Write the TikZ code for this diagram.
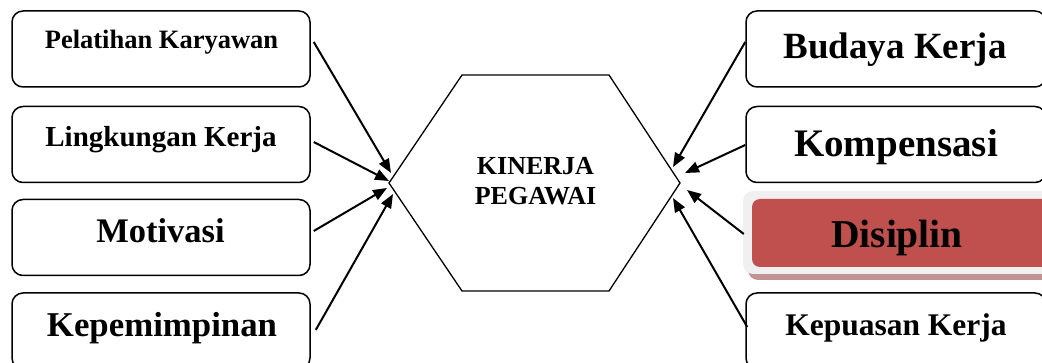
\documentclass[tikz,border=0pt]{standalone}
\usepackage{fontspec}
\setmainfont{Liberation Serif}
\usetikzlibrary{arrows.meta}
\definecolor{dred}{HTML}{C0504D}
\definecolor{glow}{HTML}{F0F0F0}
\definecolor{shad}{HTML}{C29393}
\tikzset{
  box/.style={draw=black, line width=1.5pt, rounded corners=11pt, minimum height=76pt, inner sep=0pt},
  lbl/.style={anchor=base, inner sep=0pt, font=\bfseries},
  arr/.style={line width=2pt, -{Triangle[length=14pt,width=11pt]}},
}
\newcommand{\fs}[1]{\fontsize{#1}{#1}\selectfont}
\begin{document}
\begin{tikzpicture}[x=1pt,y=-1pt]
\useasboundingbox (0,0) rectangle (1042,363);
% left boxes
\node[box, minimum width=298pt] (b1) at (161,49) {};
\node[box, minimum width=298pt] (b2) at (161,144.5) {};
\node[box, minimum width=298pt] (b3) at (161,237.5) {};
\node[box, minimum width=298pt] (b4) at (161,331) {};
\node[lbl, font=\bfseries\fs{26.5}] (l1) at (161.5,49) {Pelatihan Karyawan};
\node[lbl, font=\bfseries\fs{29}] (l2) at (161,147) {Lingkungan Kerja};
\node[lbl, font=\bfseries\fs{34.5}] (l3) at (160.5,243) {Motivasi};
\node[lbl, font=\bfseries\fs{34.8}] (l4) at (162,337) {Kepemimpinan};
% right boxes
\node[box, minimum width=300pt] (r1) at (896,49) {};
\node[box, minimum width=300pt] (r2) at (896,144.5) {};
\node[box, minimum width=300pt] (r4) at (896,331) {};
% Disiplin box
\fill[shad, rounded corners=10pt] (748,200) rectangle (1052,280);
\fill[glow, rounded corners=10pt] (743,191) rectangle (1052,274);
\node[fill=dred, rounded corners=8pt, minimum width=300pt, minimum height=68pt, inner sep=0pt] (r3) at (902,233) {};
\node[lbl, font=\bfseries\fs{37}] (m1) at (895,59) {Budaya Kerja};
\node[lbl, font=\bfseries\fs{39}] (m2) at (896,157) {Kompensasi};
\node[lbl, font=\bfseries\fs{39.5}] (m3) at (897,248) {Disiplin};
\node[lbl, font=\bfseries\fs{31.5}] (m4) at (896,336) {Kepuasan Kerja};
% hexagon
\coordinate (hw) at (389,183);
\coordinate (hnw) at (462,75);
\coordinate (hne) at (609,75);
\coordinate (he) at (680,183);
\coordinate (hse) at (609,291);
\coordinate (hsw) at (462,291);
\draw[line width=1.3pt, line join=miter] (hw) -- (hnw) -- (hne) -- (he) -- (hse) -- (hsw) -- cycle;
\node[align=center, inner sep=0pt, anchor=base, font=\bfseries\fontsize{26}{30}\selectfont] (kp) at (535.5,205) {KINERJA\\PEGAWAI};
% arrow tips
\coordinate (tl1) at (391,173);
\coordinate (tl2) at (389,181);
\coordinate (tl3) at (387,188);
\coordinate (tl4) at (393,194);
\coordinate (tr1) at (673,167);
\coordinate (tr2) at (685,173);
\coordinate (tr3) at (687,190);
\coordinate (tr4) at (673,198);
\draw[arr] ([xshift=3pt,yshift=7pt]b1.east) -- (tl1);
\draw[arr] ([xshift=3pt,yshift=2.5pt]b2.east) -- (tl2);
\draw[arr] ([xshift=3pt,yshift=6.5pt]b3.east) -- (tl3);
\draw[arr] ([xshift=5pt,yshift=1pt]b4.east) -- (tl4);
\draw[arr] ([xshift=0pt,yshift=7pt]r1.west) -- (tr1);
\draw[arr] ([xshift=0pt,yshift=-0.5pt]r2.west) -- (tr2);
\draw[arr] ([xshift=-8pt,yshift=-1pt]r3.west) -- (tr3);
\draw[arr] ([xshift=2pt,yshift=4pt]r4.west) -- (tr4);
\end{tikzpicture}
\end{document}
